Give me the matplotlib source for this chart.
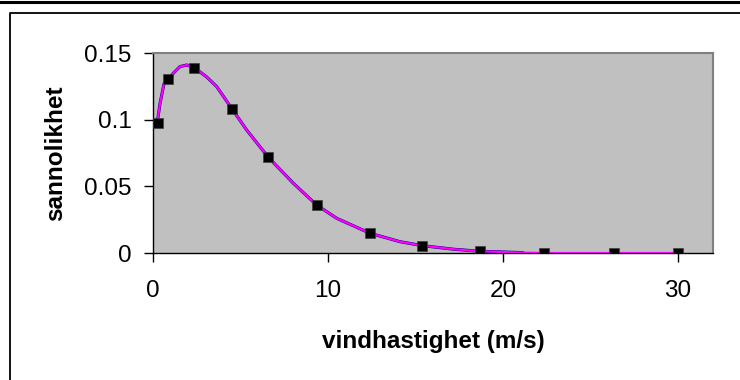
import numpy as np
import matplotlib
matplotlib.use("Agg")
import matplotlib.pyplot as plt
from matplotlib.lines import Line2D

plt.rcParams['font.family'] = ['Liberation Sans', 'DejaVu Sans']

# measured points (markers)
meas_x = [0.3, 0.88, 2.36, 4.53, 6.59, 9.35, 12.4, 15.39, 18.69, 22.36, 26.36, 30.0]
meas_y = [0.0973, 0.1303, 0.139, 0.1078, 0.0718, 0.036, 0.0148, 0.0055, 0.0013, 0.0, 0.0, 0.0]

# fitted curve (blue)
fit_x = [0.25, 0.4, 0.63, 0.88, 1.16, 1.54, 1.93, 2.36, 3.07, 3.64, 4.53, 5.35,
         6.59, 8.02, 9.35, 10.5, 12.4, 14.11, 15.39, 17.2, 18.69, 21.1]
fit_y = [0.0985, 0.112, 0.127, 0.1303, 0.1348, 0.1398, 0.141, 0.139, 0.132, 0.1248,
         0.1078, 0.0923, 0.0718, 0.0523, 0.036, 0.026, 0.0148, 0.0085, 0.0055,
         0.0028, 0.0013, 0.0003]

# second curve (magenta), continues to 30
fit2_x = fit_x + [22.36, 26.36, 30.0]
fit2_y = fit_y + [0.0, 0.0, 0.0]

fig = plt.figure(figsize=(7.4, 3.8), dpi=100)
ax = fig.add_axes([153/740, 127/380, 560/740, 200/380])
ax.set_facecolor('#C0C0C0')

ax.plot(fit_x, fit_y, color='#000080', lw=2.2, zorder=2)
ax.plot(fit2_x, fit2_y, color='#FF00FF', lw=1.6, zorder=3)
ax.plot(meas_x, meas_y, ls='none', marker='s', ms=7.5, color='black',
        mec='#404040', mew=0.5, zorder=4)

ax.set_xlim(0, 32)
ax.set_ylim(0, 0.15)
ax.set_xticks([0, 10, 20, 30])
ax.set_yticks([0, 0.05, 0.1, 0.15])
ax.set_yticklabels(['0', '0.05', '0.1', '0.15'])
ax.tick_params(direction='out', length=6.5, width=1, labelsize=17.5, color='black')
ax.tick_params(axis='x', pad=13)
ax.tick_params(axis='y', pad=9)
for s in ['top', 'right']:
    ax.spines[s].set_color('#808080')
    ax.spines[s].set_linewidth(1.5)
for s in ['left', 'bottom']:
    ax.spines[s].set_color('black')
    ax.spines[s].set_linewidth(1)

ax.set_xlabel('vindhastighet (m/s)', fontsize=17.5, fontweight='bold', labelpad=20)
ax.set_ylabel('sannolikhet', fontsize=17.5, fontweight='bold', labelpad=12)

# outer frame lines
fig.add_artist(Line2D([0, 1], [1 - 1.5/380, 1 - 1.5/380], color='black', lw=2.2,
                      transform=fig.transFigure))
fig.add_artist(Line2D([10/740, 10/740, 1], [0, 1 - 13/380, 1 - 13/380], color='black',
                      lw=1.3, transform=fig.transFigure))

fig.savefig('out.png', dpi=100)
